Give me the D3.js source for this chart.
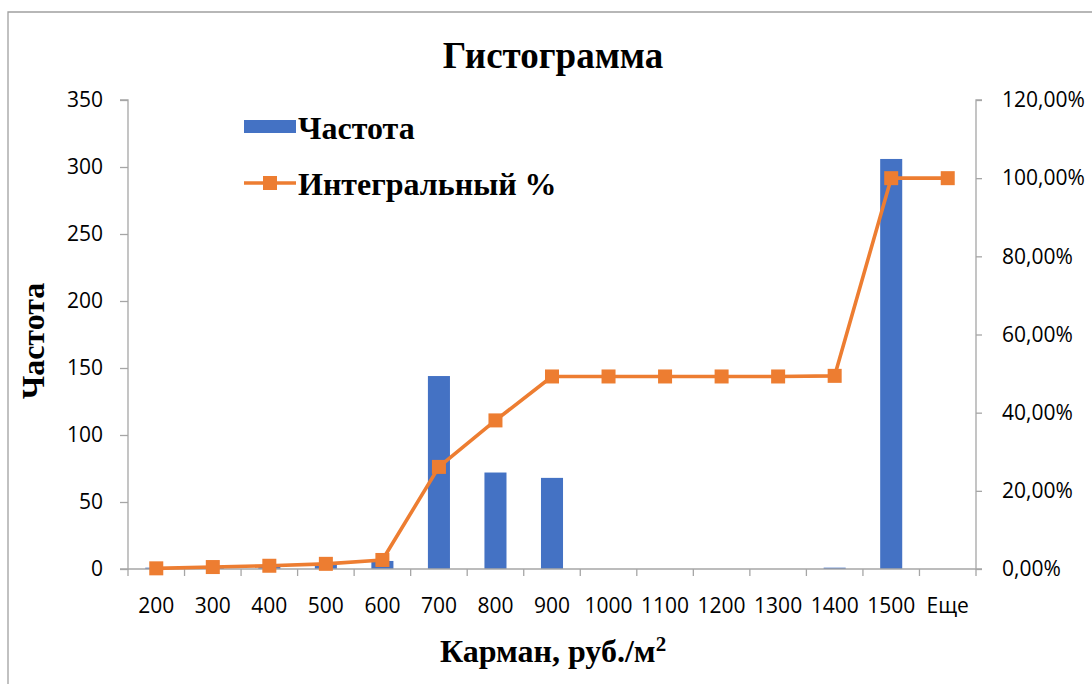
<!DOCTYPE html>
<html>
<head>
<meta charset="utf-8">
<script src="https://cdn.jsdelivr.net/npm/d3@7"></script>
<style>
  html, body { margin: 0; padding: 0; background: #fff; }
  svg { display: block; }
</style>
</head>
<body>
<div id="chart"></div>
<script>
// Bin upper bounds (pockets), RUB per square metre
const categories = ["200","300","400","500","600","700","800","900","1000","1100","1200","1300","1400","1500","Еще"];
// Frequency per bin
const frequency = [1, 2, 2, 3, 6, 144, 72, 68, 0, 0, 0, 0, 1, 306, 0];
// Cumulative share, percent
const cumulative = [0.17, 0.50, 0.83, 1.32, 2.31, 26.12, 38.02, 49.26, 49.26, 49.26, 49.26, 49.26, 49.42, 100, 100];
const leftTicks = [0, 50, 100, 150, 200, 250, 300, 350];
const rightTicks = [0, 20, 40, 60, 80, 100, 120];

const W = 1092, H = 684;
const plot = { left: 128, right: 976, top: 100, bottom: 569 };

const barColor = "#4472C4";
const lineColor = "#ED7D31";
const axisColor = "#A6A6A6";
const tickFont = "'Open Sans', 'Noto Sans', sans-serif";
const tickSize = 21;
const serif = "'Liberation Serif', 'Times New Roman', serif";

const svg = d3.select("#chart").append("svg")
  .attr("width", W).attr("height", H);

// chart frame
svg.append("path")
  .attr("d", `M8,${H} L8,12 L${W},12`)
  .attr("fill", "none").attr("stroke", "#A0A0A0").attr("stroke-width", 1.3);

const xBand = d3.scaleBand().domain(categories)
  .range([plot.left, plot.right]).paddingInner(0.61).paddingOuter(0.305);
const xCenter = d => xBand(d) + xBand.bandwidth() / 2;
const yLeft = d3.scaleLinear().domain([0, 350]).range([plot.bottom, plot.top]);
const yRight = d3.scaleLinear().domain([0, 120]).range([plot.bottom, plot.top]);

// bars
svg.append("g").selectAll("rect").data(categories).join("rect")
  .attr("x", d => xBand(d))
  .attr("width", xBand.bandwidth())
  .attr("y", (d, i) => yLeft(frequency[i]))
  .attr("height", (d, i) => yLeft(0) - yLeft(frequency[i]))
  .attr("fill", barColor);

// left axis
const gL = svg.append("g").attr("transform", `translate(${plot.left},0)`)
  .call(d3.axisLeft(yLeft).tickValues(leftTicks).tickSize(8).tickPadding(17));
// right axis
const gR = svg.append("g").attr("transform", `translate(${plot.right},0)`)
  .call(d3.axisRight(yRight).tickValues(rightTicks).tickSize(6).tickPadding(20)
    .tickFormat(d => d3.format(".2f")(d).replace(".", ",") + "%"));
// bottom axis: ticks on bin boundaries, labels centred in bins
const step = xBand.step();
const boundaries = d3.range(categories.length + 1).map(i => plot.left + i * step);
const gB = svg.append("g").attr("transform", `translate(0,${plot.bottom})`);
gB.append("line").attr("x1", plot.left).attr("x2", plot.right)
  .attr("stroke", axisColor).attr("stroke-width", 1.3);
gB.selectAll("line.tk").data(boundaries).join("line").attr("class", "tk")
  .attr("x1", d => d).attr("x2", d => d).attr("y1", 0).attr("y2", 7)
  .attr("stroke", axisColor).attr("stroke-width", 1.3);
gB.selectAll("text").data(categories).join("text")
  .attr("x", d => xCenter(d)).attr("y", 44)
  .attr("text-anchor", "middle")
  .attr("font-family", tickFont).attr("font-size", tickSize).attr("fill", "#000")
  .text(d => d);

[gL, gR].forEach(g => {
  g.select(".domain").attr("stroke", axisColor).attr("stroke-width", 1.3);
  g.selectAll(".tick line").attr("stroke", axisColor).attr("stroke-width", 1.3);
  g.selectAll(".tick text").attr("font-family", tickFont).attr("font-size", tickSize).attr("fill", "#000");
});
gL.select(".domain").attr("d", `M-8,${plot.top}H0V${plot.bottom}H-8`);
gR.select(".domain").attr("d", `M6,${plot.top}H0V${plot.bottom}H6`);

// cumulative line
const line = d3.line()
  .x((d, i) => xCenter(categories[i]))
  .y(d => yRight(d));
svg.append("path").datum(cumulative)
  .attr("d", line)
  .attr("fill", "none").attr("stroke", lineColor)
  .attr("stroke-width", 3.6).attr("stroke-linejoin", "round");
const m = 14;
svg.append("g").selectAll("rect").data(cumulative).join("rect")
  .attr("x", (d, i) => xCenter(categories[i]) - m / 2)
  .attr("y", d => yRight(d) - m / 2)
  .attr("width", m).attr("height", m)
  .attr("fill", lineColor);

// title
svg.append("text").attr("x", 553).attr("y", 68)
  .attr("text-anchor", "middle")
  .attr("font-family", serif).attr("font-weight", "bold").attr("font-size", 37)
  .text("Гистограмма");

// axis titles
svg.append("text")
  .attr("transform", "translate(44,341) rotate(-90)")
  .attr("text-anchor", "middle")
  .attr("font-family", serif).attr("font-weight", "bold").attr("font-size", 32)
  .text("Частота");
const xt = svg.append("text").attr("x", 553).attr("y", 662)
  .attr("text-anchor", "middle")
  .attr("font-family", serif).attr("font-weight", "bold").attr("font-size", 32);
xt.append("tspan").text("Карман, руб./м");
xt.append("tspan").attr("dy", -11).attr("font-size", 21).text("2");

// legend
const lg = svg.append("g");
lg.append("rect").attr("x", 244).attr("y", 120).attr("width", 52).attr("height", 13)
  .attr("fill", barColor);
lg.append("text").attr("x", 298).attr("y", 139)
  .attr("font-family", serif).attr("font-weight", "bold").attr("font-size", 32)
  .text("Частота");
lg.append("line").attr("x1", 244).attr("x2", 296).attr("y1", 183).attr("y2", 183)
  .attr("stroke", lineColor).attr("stroke-width", 3.6);
lg.append("rect").attr("x", 270 - m / 2).attr("y", 183 - m / 2).attr("width", m).attr("height", m)
  .attr("fill", lineColor);
lg.append("text").attr("x", 298).attr("y", 195)
  .attr("font-family", serif).attr("font-weight", "bold").attr("font-size", 32)
  .text("Интегральный %");
</script>
</body>
</html>
